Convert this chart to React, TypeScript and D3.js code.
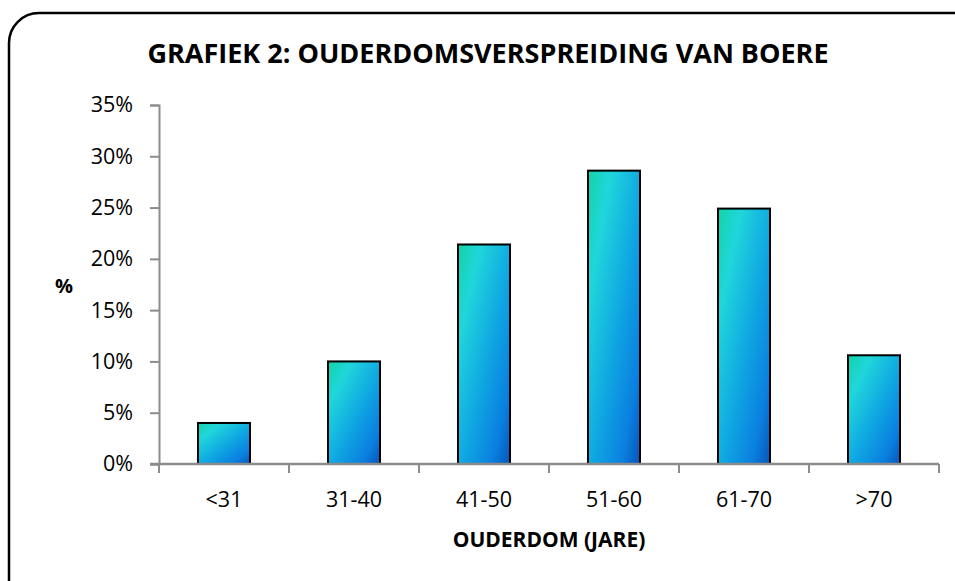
import * as d3 from "d3";
import { useEffect, useRef } from "react";

const categories = ["<31", "31-40", "41-50", "51-60", "61-70", ">70"];
const values = [4.0, 10.0, 21.4, 28.6, 24.9, 10.6];
const yTicks = [0, 5, 10, 15, 20, 25, 30, 35];

const title = "GRAFIEK 2: OUDERDOMSVERSPREIDING VAN BOERE";
const xTitle = "OUDERDOM (JARE)";
const yTitle = "%";

const W = 955;
const H = 581;
const FONT = "'Open Sans', 'Noto Sans', sans-serif";

export default function App() {
  const ref = useRef<SVGSVGElement>(null);

  useEffect(() => {
    const svg = d3.select(ref.current);
    svg.selectAll("*").remove();

    const left = 159, right = 939, top = 105, bottom = 464;

    const x = d3.scaleBand().domain(categories).range([left, right]).paddingInner(0.6).paddingOuter(0.3);
    const xEdges = d3.scaleBand().domain(categories).range([left, right]);
    const y = d3.scaleLinear().domain([0, 35]).range([bottom, top]);

    const defs = svg.append("defs");
    const grad = defs.append("linearGradient")
      .attr("id", "barGrad")
      .attr("x1", 0).attr("y1", 0).attr("x2", 1).attr("y2", 1);
    grad.append("stop").attr("offset", "0%").attr("stop-color", "#12d3a6");
    grad.append("stop").attr("offset", "22%").attr("stop-color", "#20d6da");
    grad.append("stop").attr("offset", "55%").attr("stop-color", "#0fa6e2");
    grad.append("stop").attr("offset", "82%").attr("stop-color", "#0a80e0");
    grad.append("stop").attr("offset", "100%").attr("stop-color", "#0556b8");

    // outer frame
    svg.append("rect")
      .attr("x", 9).attr("y", 13)
      .attr("width", 975).attr("height", 600)
      .attr("rx", 30)
      .attr("fill", "#fff")
      .attr("stroke", "#000")
      .attr("stroke-width", 2.5);

    svg.append("text")
      .attr("x", 488).attr("y", 63)
      .attr("text-anchor", "middle")
      .attr("font-family", FONT)
      .attr("font-weight", "bold")
      .attr("font-size", 27)
      .text(title);

    // bars
    svg.append("g")
      .selectAll("rect")
      .data(values)
      .join("rect")
      .attr("x", (d, i) => x(categories[i])!)
      .attr("y", d => y(d))
      .attr("width", x.bandwidth())
      .attr("height", d => bottom - y(d))
      .attr("fill", "url(#barGrad)")
      .attr("stroke", "#000")
      .attr("stroke-width", 2);

    // y axis
    const yAxis = svg.append("g")
      .attr("transform", `translate(${left},0)`)
      .call(d3.axisLeft(y).tickValues(yTicks).tickSize(9).tickFormat(d => `${d}%`));
    yAxis.select(".domain").attr("stroke", "#8c8c8c").attr("stroke-width", 2);
    yAxis.selectAll(".tick line").attr("stroke", "#8c8c8c").attr("stroke-width", 2);
    yAxis.selectAll(".tick text")
      .attr("font-family", FONT).attr("font-size", 21.5).attr("fill", "#000")
      .attr("x", -26);

    // x axis
    const xAxis = svg.append("g").attr("transform", `translate(0,${bottom})`);
    xAxis.append("line")
      .attr("x1", left - 9).attr("x2", right)
      .attr("stroke", "#8c8c8c").attr("stroke-width", 2.5);
    const edges = [...categories.map(c => xEdges(c)!), right];
    xAxis.selectAll("line.tk")
      .data(edges)
      .join("line")
      .attr("class", "tk")
      .attr("x1", d => d).attr("x2", d => d)
      .attr("y1", 0).attr("y2", 9)
      .attr("stroke", "#8c8c8c").attr("stroke-width", 2);
    xAxis.selectAll("text")
      .data(categories)
      .join("text")
      .attr("x", d => xEdges(d)! + xEdges.bandwidth() / 2)
      .attr("y", 43)
      .attr("text-anchor", "middle")
      .attr("font-family", FONT).attr("font-size", 21.5)
      .text(d => d);

    svg.append("text")
      .attr("x", 549).attr("y", 547)
      .attr("text-anchor", "middle")
      .attr("font-family", FONT).attr("font-weight", "bold").attr("font-size", 21)
      .text(xTitle);

    svg.append("text")
      .attr("x", 64).attr("y", 293)
      .attr("text-anchor", "middle")
      .attr("font-family", FONT).attr("font-weight", "bold").attr("font-size", 20)
      .text(yTitle);
  }, []);

  return (
    <div style={{ position: "absolute", left: 0, top: 0, width: W, height: H, overflow: "hidden", background: "#fff" }}>
      <svg ref={ref} width={W} height={H} />
    </div>
  );
}
